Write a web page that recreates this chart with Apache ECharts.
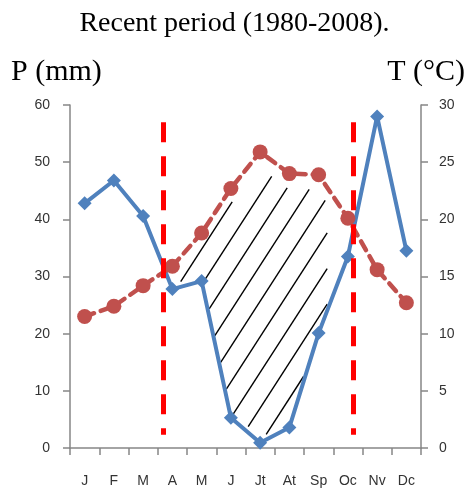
<!DOCTYPE html>
<html>
<head>
<meta charset="utf-8">
<script src="https://cdn.jsdelivr.net/npm/echarts@6/dist/echarts.min.js"></script>
<style>
  html, body { margin: 0; padding: 0; background: #fff; }
  #chart { width: 469px; height: 493px; }
</style>
</head>
<body>
<div id="chart"></div>
<script>
// Ombrothermic diagram, 1980-2008
const months = ['J', 'F', 'M', 'A', 'M', 'J', 'Jt', 'At', 'Sp', 'Oc', 'Nv', 'Dc'];
const precipitation = [42.8, 46.8, 40.6, 27.8, 29.2, 5.3, 0.9, 3.6, 20.1, 33.5, 58.0, 34.5]; // mm
const temperature = [11.5, 12.4, 14.2, 15.9, 18.8, 22.7, 25.9, 24.0, 23.9, 20.1, 15.6, 12.7]; // °C
const pTicks = { min: 0, max: 60, interval: 10 };
const tTicks = { min: 0, max: 30, interval: 5 };
// dry season limits, in month units along the axis (0 = start of January)
const drySeason = [3.2, 9.7];
const dryLineSpan = [2.3, 57]; // vertical extent of the limit lines, in mm

// hatching between the two curves during the dry season
const hatch = { fromMonth: 3.25, toMonth: 8.3, spacing: 23, slope: 1.55, insetTop: 15, insetBottom: 5 };

const chart = echarts.init(document.getElementById('chart'));

function interp(pts, x) {
  if (x <= pts[0][0]) return pts[0][1];
  for (let i = 1; i < pts.length; i++) {
    if (x <= pts[i][0]) {
      const a = pts[i - 1], b = pts[i];
      return a[1] + (b[1] - a[1]) * (x - a[0]) / (b[0] - a[0]);
    }
  }
  return pts[pts.length - 1][1];
}

function renderHatch(params, api) {
  const bottomPts = precipitation.map((v, i) => api.coord([i, v]));
  // temperature plotted on the precipitation scale (P = 2T)
  const topPts = temperature.map((v, i) => api.coord([i, v * 2]));
  const x0 = api.coord([0, 0])[0];
  const step = api.coord([1, 0])[0] - x0;
  const yBase = api.coord([0, 0])[1];
  const xL = x0 + hatch.fromMonth * step;
  const xR = x0 + hatch.toMonth * step;
  const children = [];
  const plotH = yBase - api.coord([0, pTicks.max])[1];
  const seg = (a, b) => ({ type: 'line', shape: { x1: a[0], y1: a[1], x2: b[0], y2: b[1] },
    style: { stroke: '#000', lineWidth: 1.4 } });
  for (let c = xL - plotH / hatch.slope; c <= xR; c += hatch.spacing) {
    let start = null, prev = null;
    for (let x = xL; x <= xR + 0.01; x += 0.5) {
      const y = yBase - hatch.slope * (x - c);
      const inside = y > interp(topPts, x) + hatch.insetTop && y < interp(bottomPts, x) - hatch.insetBottom;
      if (inside && start === null) start = [x, y];
      if (!inside && start !== null) {
        children.push(seg(start, prev));
        start = null;
      }
      prev = [x, y];
    }
    if (start !== null) children.push(seg(start, prev));
  }
  return { type: 'group', children };
}

const axisGrey = '#868686';
const labelStyle = { color: '#333', fontFamily: 'Liberation Sans', fontSize: 14 };

chart.setOption({
  animation: false,
  title: {
    text: 'Recent period (1980-2008).',
    left: 'center',
    top: 5,
    textStyle: { fontFamily: 'Liberation Serif', fontSize: 28, fontWeight: 'normal', color: '#000' }
  },
  graphic: [
    { type: 'text', left: 11, top: 57, style: { text: 'P (mm)', fontFamily: 'Liberation Serif', fontSize: 30, fill: '#000' } },
    { type: 'text', right: 4, top: 57, style: { text: 'T (°C)', fontFamily: 'Liberation Serif', fontSize: 30, fill: '#000' } }
  ],
  grid: { left: 70, right: 48, top: 105, bottom: 45 },
  xAxis: [
    {
      type: 'category',
      data: months,
      boundaryGap: true,
      axisLine: { lineStyle: { color: axisGrey, width: 1.5 } },
      axisTick: { show: true, interval: 0, length: 7, lineStyle: { color: axisGrey, width: 1.5 } },
      axisLabel: Object.assign({ interval: 0, margin: 26 }, labelStyle),
      splitLine: { show: false }
    },
    { type: 'value', min: 0, max: 12, show: false }
  ],
  yAxis: [
    {
      type: 'value', position: 'left',
      min: pTicks.min, max: pTicks.max, interval: pTicks.interval,
      axisLine: { show: true, lineStyle: { color: axisGrey, width: 1.5 } },
      axisTick: { show: true, length: 7, lineStyle: { color: axisGrey, width: 1.5 } },
      axisLabel: Object.assign({ margin: 20 }, labelStyle),
      splitLine: { show: false }
    },
    {
      type: 'value', position: 'right',
      min: tTicks.min, max: tTicks.max, interval: tTicks.interval,
      axisLine: { show: true, lineStyle: { color: axisGrey, width: 1.5 } },
      axisTick: { show: true, length: 7, lineStyle: { color: axisGrey, width: 1.5 } },
      axisLabel: Object.assign({ margin: 18 }, labelStyle),
      splitLine: { show: false }
    }
  ],
  series: [
    {
      type: 'custom',
      name: 'dry',
      xAxisIndex: 0, yAxisIndex: 0,
      data: [0],
      renderItem: renderHatch,
      silent: true,
      z: 1
    },
    {
      type: 'line',
      name: 'P',
      xAxisIndex: 0, yAxisIndex: 0,
      data: precipitation,
      symbol: 'diamond',
      symbolSize: 14,
      itemStyle: { color: '#4f81bd' },
      lineStyle: { color: '#4f81bd', width: 4 },
      z: 2
    },
    {
      type: 'line',
      name: 'T',
      xAxisIndex: 0, yAxisIndex: 1,
      data: temperature,
      symbol: 'circle',
      symbolSize: 15,
      itemStyle: { color: '#c0504d' },
      lineStyle: { color: '#c0504d', width: 4.5, type: [10, 7], cap: 'round' },
      z: 3
    },
    {
      type: 'line',
      name: 'limits',
      xAxisIndex: 1, yAxisIndex: 0,
      data: [],
      z: 5,
      markLine: {
        silent: true,
        symbol: 'none',
        label: { show: false },
        lineStyle: { color: '#ff0000', width: 5, type: [20, 14] },
        data: drySeason.map(m => [{ coord: [m, dryLineSpan[1]] }, { coord: [m, dryLineSpan[0]] }])
      }
    }
  ]
});
</script>
</body>
</html>
